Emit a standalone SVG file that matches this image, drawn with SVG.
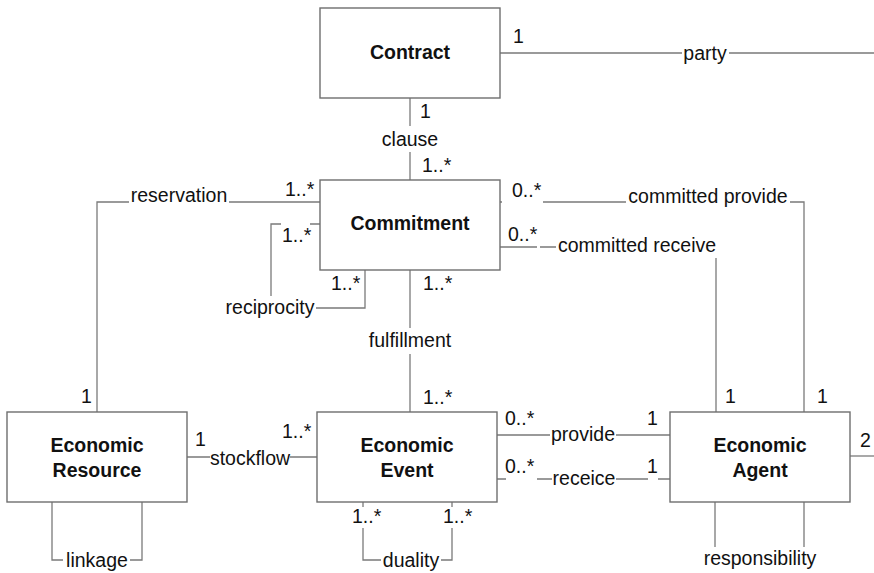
<svg xmlns="http://www.w3.org/2000/svg" width="874" height="573" viewBox="0 0 874 573">
<style>
.box{fill:#fff;stroke:#6e6e6e;stroke-width:1.4}
.ln{fill:none;stroke:#7a7a7a;stroke-width:1.3}
.t{font-family:"Liberation Sans",Arial,sans-serif;font-size:19.5px;fill:#111}
.b{font-family:"Liberation Sans",Arial,sans-serif;font-size:19.5px;font-weight:bold;fill:#111;text-anchor:middle}
.m{text-anchor:middle}
</style>
<rect width="874" height="573" fill="#fff"/>
<g id="connectors">
<!-- party -->
<path class="ln" d="M500 53H682M729 53H874"/>
<!-- clause -->
<path class="ln" d="M410 98V126M410 152V180"/>
<!-- reservation -->
<path class="ln" d="M320 202H229M129 202H97V412"/>
<!-- reciprocity -->
<path class="ln" d="M320 224H310M281 224H271V296M316 308H365V270"/>
<!-- fulfillment -->
<path class="ln" d="M410 270V328M410 354V412"/>
<!-- committed provide -->
<path class="ln" d="M500 202H502M543 202H626M790 202H804V412"/>
<!-- committed receive -->
<path class="ln" d="M500 247H537M540 247H556M716 258V412"/>
<!-- stockflow -->
<path class="ln" d="M187 457H210M290 457H317"/>
<!-- linkage -->
<path class="ln" d="M52 502V560H63M130 560H142V502"/>
<!-- duality -->
<path class="ln" d="M363 502V507M363 528V560H381M441 560H452V528M452 507V502"/>
<!-- provide -->
<path class="ln" d="M497 435H550M616 435H670"/>
<!-- receice -->
<path class="ln" d="M497 479H506M537 479H552M616 479H648M658 479H670"/>
<!-- party from agent -->
<path class="ln" d="M850 456H874"/>
<!-- responsibility -->
<path class="ln" d="M715 502V547M804 502V547"/>
</g>
<g id="labels">
<text class="t" x="513" y="43">1</text>
<text class="t m" x="705" y="60">party</text>
<text class="t" x="420" y="118">1</text>
<text class="t m" x="410" y="146">clause</text>
<text class="t" x="422" y="172">1..*</text>
<text class="t m" x="179" y="202">reservation</text>
<text class="t" x="285" y="196">1..*</text>
<text class="t" x="282" y="242">1..*</text>
<text class="t" x="331" y="290">1..*</text>
<text class="t m" x="270" y="314">reciprocity</text>
<text class="t" x="423" y="290">1..*</text>
<text class="t m" x="410" y="347">fulfillment</text>
<text class="t" x="423" y="404">1..*</text>
<text class="t" x="512" y="197">0..*</text>
<text class="t m" x="708" y="203">committed provide</text>
<text class="t" x="508" y="241">0..*</text>
<text class="t m" x="637" y="252">committed receive</text>
<text class="t" x="81" y="403">1</text>
<text class="t" x="195" y="446">1</text>
<text class="t m" x="250" y="465">stockflow</text>
<text class="t" x="282" y="438">1..*</text>
<text class="t m" x="97" y="567">linkage</text>
<text class="t" x="352" y="523">1..*</text>
<text class="t" x="443" y="523">1..*</text>
<text class="t m" x="411" y="567">duality</text>
<text class="t" x="505" y="425">0..*</text>
<text class="t m" x="583" y="441">provide</text>
<text class="t" x="647" y="425">1</text>
<text class="t" x="505" y="473">0..*</text>
<text class="t m" x="584" y="485">receice</text>
<text class="t" x="647" y="473">1</text>
<text class="t" x="725" y="403">1</text>
<text class="t" x="817" y="403">1</text>
<text class="t" x="860" y="447">2</text>
<text class="t m" x="760" y="565">responsibility</text>
</g>
<g id="contract"><rect class="box" x="320" y="8" width="180" height="90"/><text class="b" x="410" y="59">Contract</text></g>
<g id="commitment"><rect class="box" x="320" y="180" width="180" height="90"/><text class="b" x="410" y="230">Commitment</text></g>
<g id="economic-resource"><rect class="box" x="7" y="412" width="180" height="90"/><text class="b" x="97" y="452">Economic</text><text class="b" x="97" y="477">Resource</text></g>
<g id="economic-event"><rect class="box" x="317" y="412" width="180" height="90"/><text class="b" x="407" y="452">Economic</text><text class="b" x="407" y="477">Event</text></g>
<g id="economic-agent"><rect class="box" x="670" y="412" width="180" height="90"/><text class="b" x="760" y="452">Economic</text><text class="b" x="760" y="477">Agent</text></g>
</svg>
